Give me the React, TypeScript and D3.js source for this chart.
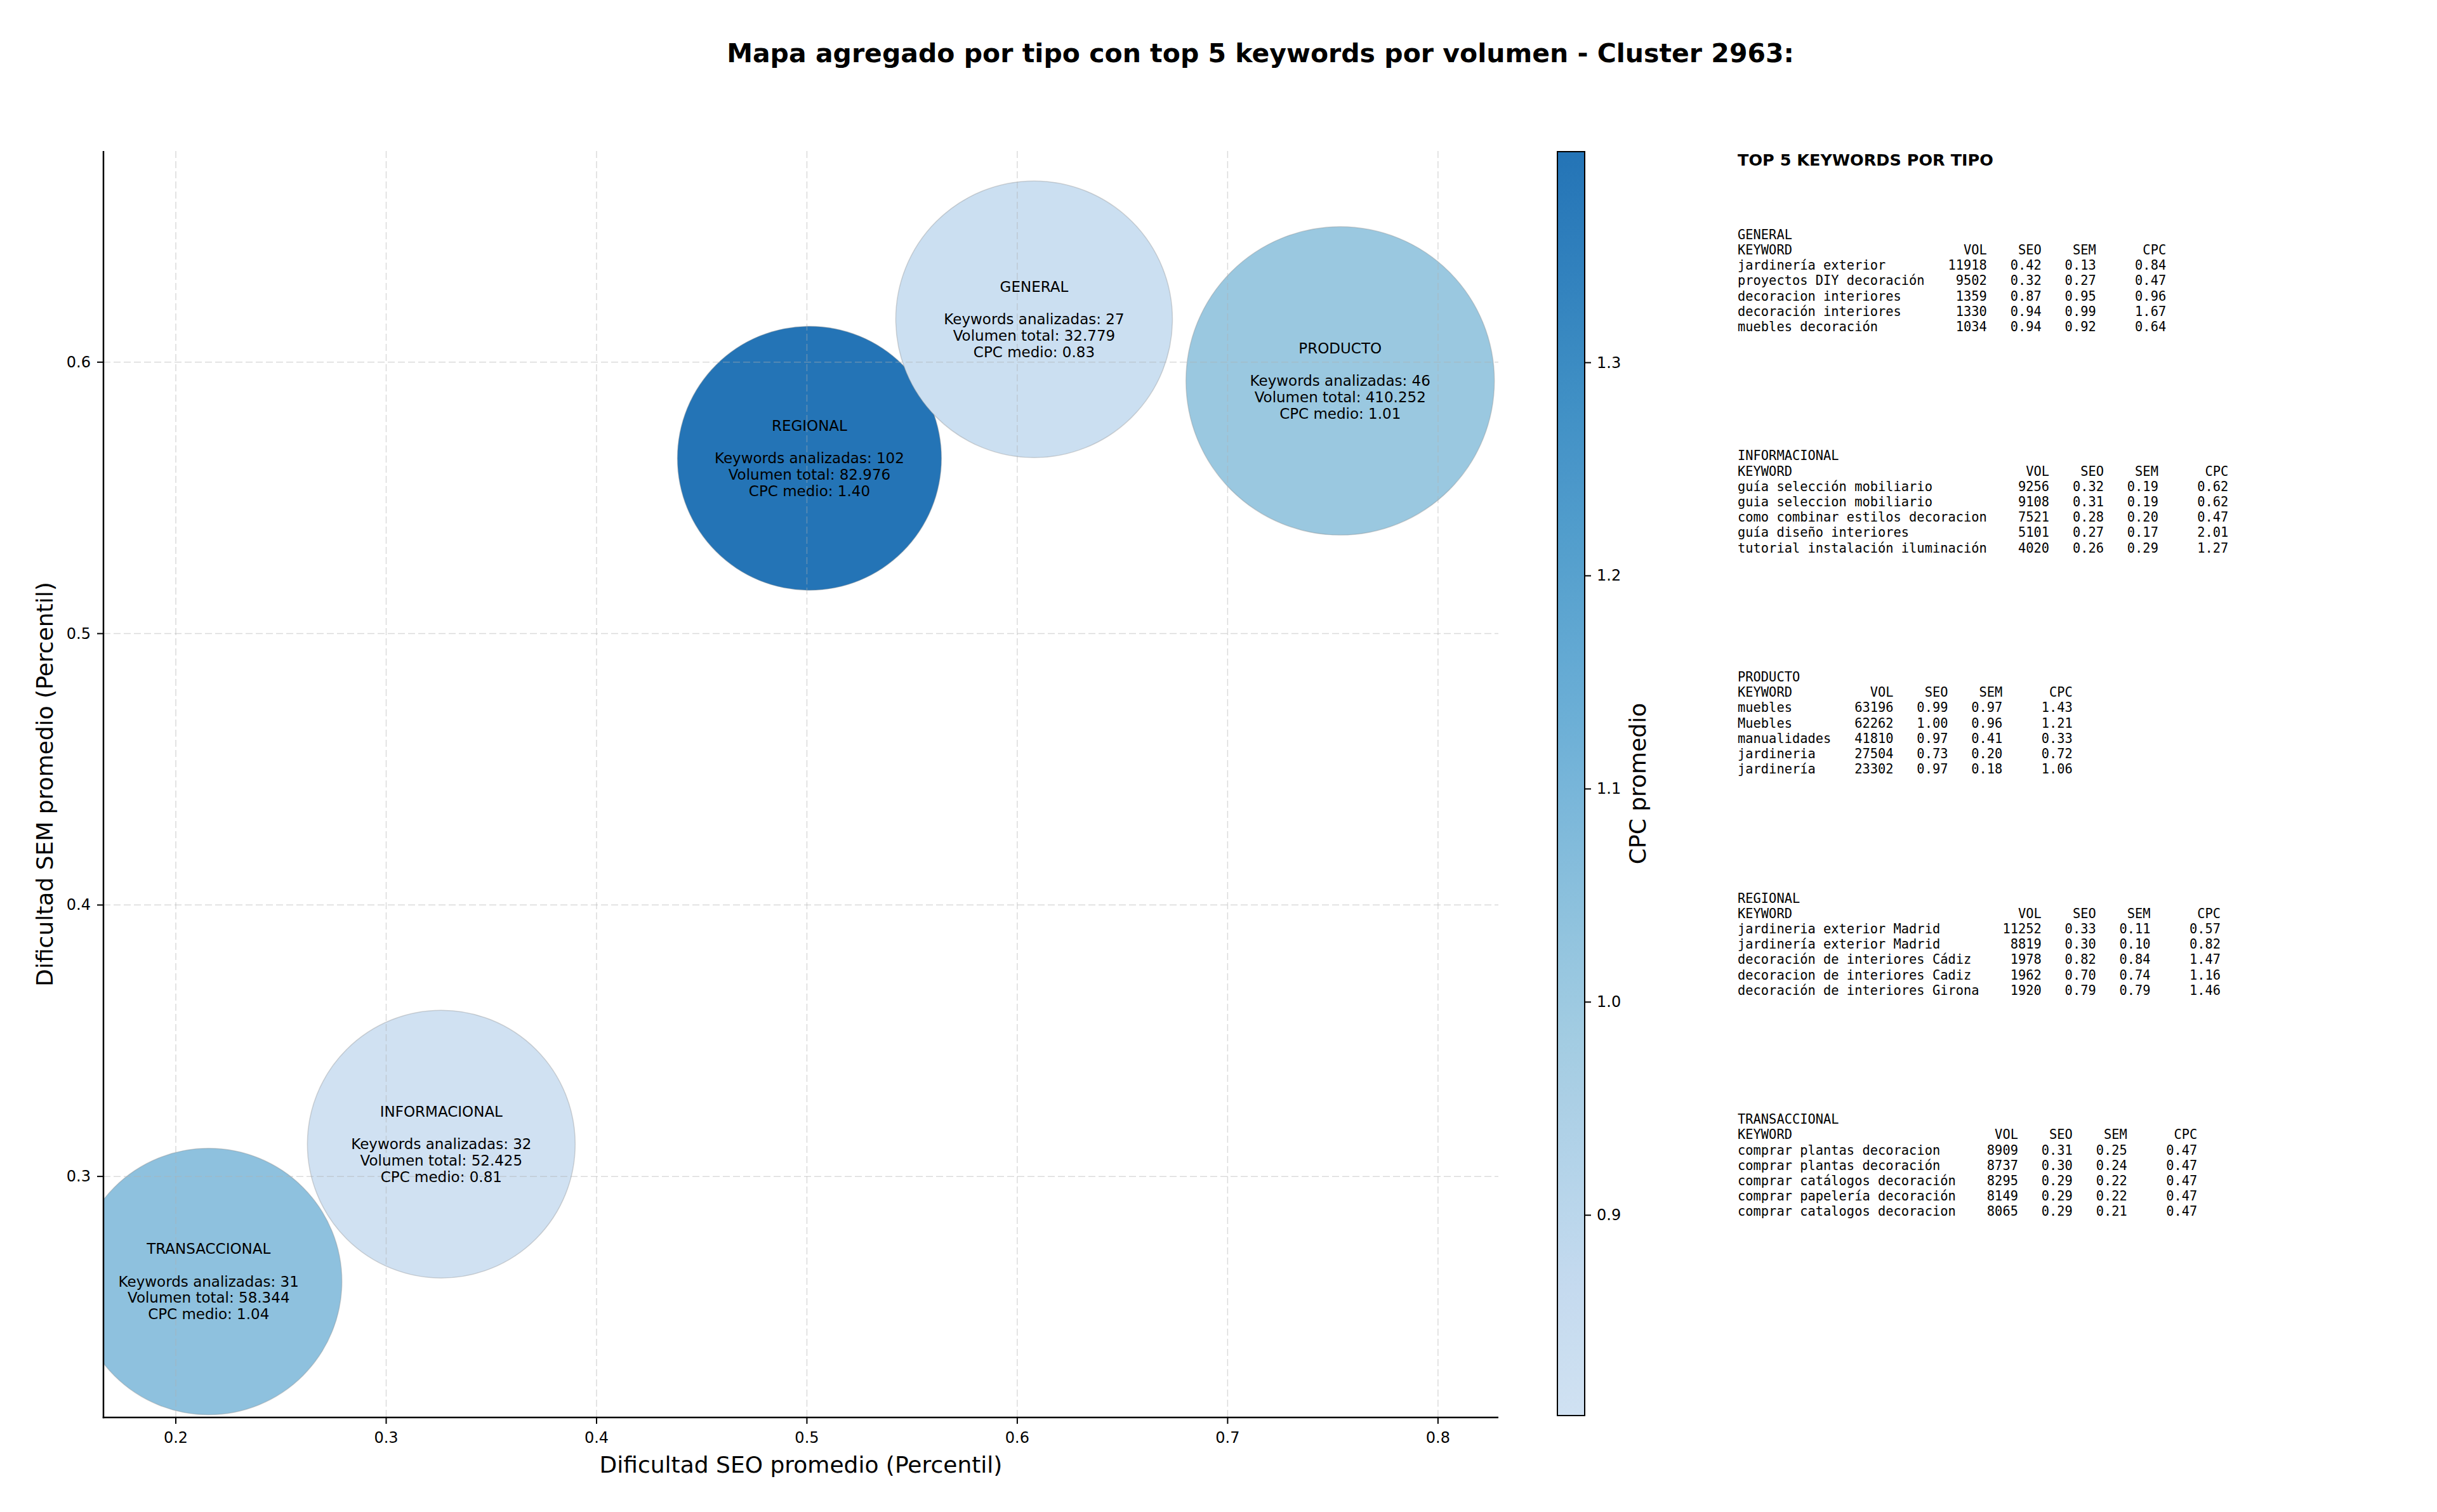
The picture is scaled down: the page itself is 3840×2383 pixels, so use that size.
import React from "react";
import * as d3 from "d3";

// ---------- DATA ----------
const categories = ["GENERAL", "INFORMACIONAL", "PRODUCTO", "REGIONAL", "TRANSACCIONAL"];
const seoAvg = [0.608, 0.3262, 0.7535, 0.5012, 0.2156];
const semAvg = [0.6158, 0.3119, 0.5931, 0.5646, 0.2613];
const keywordCount = [27, 32, 46, 102, 31];
const volumeTotal = [32779, 52425, 410252, 82976, 58344];
const cpcAvg = [0.83, 0.806, 1.01, 1.399, 1.04];
const markerSize = [21121, 19787, 26244, 19228, 19600];

const xTicks = [0.2, 0.3, 0.4, 0.5, 0.6, 0.7, 0.8];
const yTicks = [0.3, 0.4, 0.5, 0.6];
const cbarTicks = [0.9, 1.0, 1.1, 1.2, 1.3];

type Row = [string, number, number, number, number];
const topGeneral: Row[] = [
  ["jardinería exterior", 11918, 0.42, 0.13, 0.84],
  ["proyectos DIY decoración", 9502, 0.32, 0.27, 0.47],
  ["decoracion interiores", 1359, 0.87, 0.95, 0.96],
  ["decoración interiores", 1330, 0.94, 0.99, 1.67],
  ["muebles decoración", 1034, 0.94, 0.92, 0.64],
];
const topInformacional: Row[] = [
  ["guía selección mobiliario", 9256, 0.32, 0.19, 0.62],
  ["guia seleccion mobiliario", 9108, 0.31, 0.19, 0.62],
  ["como combinar estilos decoracion", 7521, 0.28, 0.2, 0.47],
  ["guía diseño interiores", 5101, 0.27, 0.17, 2.01],
  ["tutorial instalación iluminación", 4020, 0.26, 0.29, 1.27],
];
const topProducto: Row[] = [
  ["muebles", 63196, 0.99, 0.97, 1.43],
  ["Muebles", 62262, 1.0, 0.96, 1.21],
  ["manualidades", 41810, 0.97, 0.41, 0.33],
  ["jardineria", 27504, 0.73, 0.2, 0.72],
  ["jardinería", 23302, 0.97, 0.18, 1.06],
];
const topRegional: Row[] = [
  ["jardineria exterior Madrid", 11252, 0.33, 0.11, 0.57],
  ["jardinería exterior Madrid", 8819, 0.3, 0.1, 0.82],
  ["decoración de interiores Cádiz", 1978, 0.82, 0.84, 1.47],
  ["decoracion de interiores Cadiz", 1962, 0.7, 0.74, 1.16],
  ["decoración de interiores Girona", 1920, 0.79, 0.79, 1.46],
];
const topTransaccional: Row[] = [
  ["comprar plantas decoracion", 8909, 0.31, 0.25, 0.47],
  ["comprar plantas decoración", 8737, 0.3, 0.24, 0.47],
  ["comprar catálogos decoración", 8295, 0.29, 0.22, 0.47],
  ["comprar papelería decoración", 8149, 0.29, 0.22, 0.47],
  ["comprar catalogos decoracion", 8065, 0.29, 0.21, 0.47],
];
const topTables = [topGeneral, topInformacional, topProducto, topRegional, topTransaccional];

// ---------- LAYOUT ----------
const W = 3840;
const H = 2383;
const plot = { left: 163, right: 2361, top: 238, bottom: 2234 };
const cbar = { left: 2454, right: 2497, top: 239, bottom: 2231 };
const FONT = "DejaVu Sans, Liberation Sans, sans-serif";
const MONO = "DejaVu Sans Mono, Liberation Mono, monospace";

const bluesStops = ["#f7fbff", "#deebf7", "#c6dbef", "#9ecae1", "#6baed6", "#4292c6", "#2171b5", "#08519c", "#08306b"];
const blues = d3
  .scaleLinear<string>()
  .domain(bluesStops.map((_, i) => i / (bluesStops.length - 1)))
  .range(bluesStops)
  .interpolate(d3.interpolateRgb);

export default function App() {
  const x = d3.scaleLinear().domain([0.1656, 0.8287]).range([plot.left, plot.right]);
  const y = d3.scaleLinear().domain([0.2112, 0.6778]).range([plot.bottom, plot.top]);
  const cpcExtent = d3.extent(cpcAvg) as [number, number];
  const norm = d3.scaleLinear().domain(cpcExtent).range([0.2, 0.74]);
  const color = (v: number) => blues(norm(v));
  const r = d3.scaleSqrt().domain([0, d3.max(markerSize) as number]).range([0, 243]);
  const cy = d3.scaleLinear().domain(cpcExtent).range([cbar.bottom, cbar.top]);

  const locale = d3.formatLocale({ decimal: ",", thousands: ".", grouping: [3], currency: ["", ""] });
  const fmtVol = locale.format(",d");
  const f1 = d3.format(".1f");

  const order = d3.range(categories.length).sort((a, b) => volumeTotal[b] - volumeTotal[a]);

  const lh = 25.7;
  const gradStops = d3.range(0, 1.0001, 0.05);

  const tableLines = (name: string, rows: Row[]) => {
    const w = d3.max(rows, (d) => d[0].length) as number;
    const fmt = (k: string, v: string, s: string, m: string, c: string) =>
      k.padEnd(w) + v.padStart(8) + s.padStart(7) + m.padStart(7) + c.padStart(9);
    return [
      name,
      fmt("KEYWORD", "VOL", "SEO", "SEM", "CPC"),
      ...rows.map((d) => fmt(d[0], String(d[1]), d[2].toFixed(2), d[3].toFixed(2), d[4].toFixed(2))),
    ];
  };

  return (
    <svg width={W} height={H} style={{ position: "absolute", left: 0, top: 0, background: "#fff" }} fontFamily={FONT}>
      <defs>
        <clipPath id="plotclip">
          <rect x={plot.left} y={plot.top} width={plot.right - plot.left} height={plot.bottom - plot.top} />
        </clipPath>
        <linearGradient id="cbgrad" x1="0" y1="1" x2="0" y2="0">
          {gradStops.map((s) => (
            <stop key={s} offset={s} stopColor={color(cpcExtent[0] + s * (cpcExtent[1] - cpcExtent[0]))} />
          ))}
        </linearGradient>
      </defs>
      <rect width={W} height={H} fill="#fff" />
      <text x={1986} y={84} textAnchor="middle" dominantBaseline="central" fontSize={41} fontWeight="bold">
        Mapa agregado por tipo con top 5 keywords por volumen - Cluster 2963:
      </text>

      <g clipPath="url(#plotclip)">
        {/* bubbles */}
        {order.map((i) => (
          <circle
            key={categories[i]}
            cx={x(seoAvg[i])}
            cy={y(semAvg[i])}
            r={r(markerSize[i])}
            fill={color(cpcAvg[i])}
            stroke="#8a8a8a"
            strokeOpacity={0.35}
            strokeWidth={1.5}
          />
        ))}

        {/* grid */}
        <g stroke="#b0b0b0" strokeOpacity={0.45} strokeWidth={1.5} strokeDasharray="11,5">
          {xTicks.map((t) => (
            <line key={"gx" + t} x1={x(t)} x2={x(t)} y1={plot.top} y2={plot.bottom} />
          ))}
          {yTicks.map((t) => (
            <line key={"gy" + t} x1={plot.left} x2={plot.right} y1={y(t)} y2={y(t)} />
          ))}
        </g>
      </g>

      {/* bubble labels */}
      {categories.map((c, i) => {
        const lines = [c, "", `Keywords analizadas: ${keywordCount[i]}`, `Volumen total: ${fmtVol(volumeTotal[i])}`, `CPC medio: ${cpcAvg[i].toFixed(2)}`];
        return (
          <g key={"t" + c}>
            {lines.map((l, j) => (
              <text
                key={j}
                x={x(seoAvg[i])}
                y={y(semAvg[i]) + (j - 2) * lh}
                textAnchor="middle"
                dominantBaseline="central"
                fontSize={23}
              >
                {l}
              </text>
            ))}
          </g>
        );
      })}

      {/* axes */}
      <line x1={plot.left} x2={plot.left} y1={plot.top} y2={plot.bottom + 1.25} stroke="#000" strokeWidth={2.5} />
      <line x1={plot.left - 1.25} x2={plot.right} y1={plot.bottom} y2={plot.bottom} stroke="#000" strokeWidth={2.5} />
      {xTicks.map((t) => (
        <g key={"xt" + t}>
          <line x1={x(t)} x2={x(t)} y1={plot.bottom} y2={plot.bottom + 10} stroke="#000" strokeWidth={2} />
          <text x={x(t)} y={2266} textAnchor="middle" dominantBaseline="central" fontSize={24}>
            {f1(t)}
          </text>
        </g>
      ))}
      {yTicks.map((t) => (
        <g key={"yt" + t}>
          <line x1={plot.left - 10} x2={plot.left} y1={y(t)} y2={y(t)} stroke="#000" strokeWidth={2} />
          <text x={143} y={y(t)} textAnchor="end" dominantBaseline="central" fontSize={24}>
            {f1(t)}
          </text>
        </g>
      ))}
      <text x={(plot.left + plot.right) / 2} y={2308} textAnchor="middle" dominantBaseline="central" fontSize={36}>
        Dificultad SEO promedio (Percentil)
      </text>
      <text
        transform={`translate(70,${(plot.top + plot.bottom) / 2}) rotate(-90)`}
        textAnchor="middle"
        dominantBaseline="central"
        fontSize={36}
      >
        Dificultad SEM promedio (Percentil)
      </text>

      {/* colorbar */}
      <rect
        x={cbar.left}
        y={cbar.top}
        width={cbar.right - cbar.left}
        height={cbar.bottom - cbar.top}
        fill="url(#cbgrad)"
        stroke="#000"
        strokeWidth={2}
      />
      {cbarTicks.map((t) => (
        <g key={"ct" + t}>
          <line x1={cbar.right} x2={cbar.right + 10} y1={cy(t)} y2={cy(t)} stroke="#000" strokeWidth={2} />
          <text x={2516} y={cy(t)} dominantBaseline="central" fontSize={24}>
            {f1(t)}
          </text>
        </g>
      ))}
      <text
        transform={`translate(2580,${(cbar.top + cbar.bottom) / 2}) rotate(-90)`}
        textAnchor="middle"
        dominantBaseline="central"
        fontSize={36}
      >
        CPC promedio
      </text>

      {/* right panel */}
      <text x={2738} y={252} dominantBaseline="central" fontSize={25.5} fontWeight="bold">
        TOP 5 KEYWORDS POR TIPO
      </text>
      {categories.map((c, i) => (
        <g key={"tb" + c}>
          {tableLines(c, topTables[i]).map((l, j) => (
            <text
              key={j}
              x={2738}
              y={369.8 + i * 348.6 + j * 24.2}
              dominantBaseline="central"
              fontSize={20.4}
              fontFamily={MONO}
              style={{ whiteSpace: "pre" }}
              xmlSpace="preserve"
            >
              {l}
            </text>
          ))}
        </g>
      ))}
    </svg>
  );
}
